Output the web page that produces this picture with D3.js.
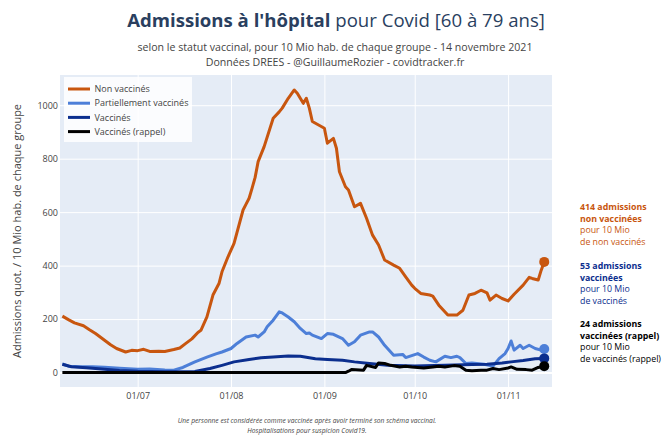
<!DOCTYPE html>
<html>
<head>
<meta charset="utf-8">
<script src="https://cdn.jsdelivr.net/npm/d3@7"></script>
<style>
  body { margin: 0; background: #fff; }
  svg { font-family: "Open Sans", sans-serif; }
</style>
</head>
<body>
<script>
// data
var nonVaxDates = ["2021-06-06","2021-06-08","2021-06-10","2021-06-13","2021-06-15","2021-06-17","2021-06-20","2021-06-22","2021-06-24","2021-06-27","2021-06-29","2021-07-01","2021-07-03","2021-07-05","2021-07-08","2021-07-10","2021-07-13","2021-07-15","2021-07-17","2021-07-19","2021-07-21","2021-07-22","2021-07-24","2021-07-26","2021-07-28","2021-07-29","2021-07-31","2021-08-02","2021-08-05","2021-08-06","2021-08-07","2021-08-08","2021-08-09","2021-08-10","2021-08-12","2021-08-15","2021-08-17","2021-08-18","2021-08-20","2021-08-22","2021-08-23","2021-08-25","2021-08-26","2021-08-27","2021-08-28","2021-09-01","2021-09-02","2021-09-04","2021-09-05","2021-09-06","2021-09-08","2021-09-09","2021-09-11","2021-09-13","2021-09-15","2021-09-17","2021-09-19","2021-09-21","2021-09-24","2021-09-26","2021-09-28","2021-09-30","2021-10-01","2021-10-03","2021-10-06","2021-10-07","2021-10-09","2021-10-12","2021-10-15","2021-10-17","2021-10-19","2021-10-21","2021-10-23","2021-10-25","2021-10-26","2021-10-28","2021-10-30","2021-11-01","2021-11-03","2021-11-06","2021-11-08","2021-11-09","2021-11-11","2021-11-12","2021-11-13"];
var nonVaxValues = [211,198,186,175,160,146,121,104,90,77,83,82,87,79,80,79,86,92,109,126,150,158,208,290,333,377,433,483,608,630,652,690,730,789,845,951,975,989,1026,1057,1045,1007,1026,989,939,914,858,876,839,751,695,683,620,633,577,514,477,421,402,390,358,327,315,296,290,286,252,215,215,233,290,296,308,298,271,290,277,268,293,327,356,352,346,383,414];

var partialDates = ["2021-06-06","2021-06-08","2021-06-12","2021-06-16","2021-06-20","2021-06-25","2021-07-01","2021-07-05","2021-07-10","2021-07-13","2021-07-16","2021-07-20","2021-07-24","2021-07-27","2021-07-29","2021-08-01","2021-08-03","2021-08-06","2021-08-09","2021-08-10","2021-08-12","2021-08-13","2021-08-15","2021-08-17","2021-08-18","2021-08-20","2021-08-22","2021-08-24","2021-08-26","2021-08-27","2021-08-28","2021-08-31","2021-09-02","2021-09-04","2021-09-07","2021-09-09","2021-09-11","2021-09-13","2021-09-16","2021-09-17","2021-09-19","2021-09-21","2021-09-24","2021-09-27","2021-09-28","2021-10-02","2021-10-04","2021-10-06","2021-10-08","2021-10-11","2021-10-13","2021-10-15","2021-10-16","2021-10-18","2021-10-20","2021-10-24","2021-10-27","2021-10-29","2021-10-31","2021-11-01","2021-11-02","2021-11-03","2021-11-05","2021-11-06","2021-11-08","2021-11-10","2021-11-12","2021-11-13"];
var partialValues = [32,24,22,22,20,16,12,13,10,9,19,40,58,70,77,90,109,133,140,133,152,171,196,227,223,208,190,165,146,148,140,127,146,143,127,102,115,140,152,152,133,102,65,68,56,71,58,46,40,61,56,61,56,34,36,31,24,52,71,90,118,84,102,90,102,90,84,88];

var vaxDates = ["2021-06-06","2021-06-09","2021-06-14","2021-06-20","2021-06-25","2021-07-01","2021-07-10","2021-07-20","2021-07-25","2021-07-29","2021-08-02","2021-08-07","2021-08-11","2021-08-15","2021-08-20","2021-08-24","2021-08-29","2021-09-02","2021-09-07","2021-09-11","2021-09-16","2021-09-22","2021-10-01","2021-10-11","2021-10-20","2021-10-25","2021-10-30","2021-11-02","2021-11-06","2021-11-10","2021-11-13"];
var vaxValues = [31,22,18,12,8,5,3,4,15,27,40,49,55,58,62,61,52,49,46,40,34,27,25,27,30,31,36,40,45,52,53];

var boosterDates = ["2021-06-06","2021-09-08","2021-09-09","2021-09-10","2021-09-14","2021-09-15","2021-09-18","2021-09-19","2021-09-21","2021-09-23","2021-09-26","2021-09-28","2021-09-30","2021-10-04","2021-10-07","2021-10-09","2021-10-11","2021-10-14","2021-10-16","2021-10-18","2021-10-20","2021-10-23","2021-10-25","2021-10-27","2021-10-29","2021-11-01","2021-11-02","2021-11-04","2021-11-07","2021-11-09","2021-11-11","2021-11-13"];
var boosterValues = [0,0,5,11,9,27,19,36,34,27,21,24,21,17,21,24,21,26,24,9,7,9,9,15,11,17,21,12,11,9,19,24];

var seriesNames = ["Non vaccinés", "Partiellement vaccinés", "Vaccinés", "Vaccinés (rappel)"];
var seriesColors = ["#c8560f", "#4d7fd8", "#0b2e8e", "#000000"];
var yTicks = [0, 200, 400, 600, 800, 1000];
var xTicks = ["2021-07-01","2021-08-01","2021-09-01","2021-10-01","2021-11-01"];
var xDomain = ["2021-06-05T05:00", "2021-11-15T14:00"];
var yDomain = [-54, 1113];

var W = 672, H = 448;
var plotLeft = 60, plotRight = 552, plotTop = 75, plotBottom = 387;

var parseDay = d3.utcParse("%Y-%m-%d"),
    parseHour = d3.utcParse("%Y-%m-%dT%H:%M");

function makeSeries(dates, values){
    return dates.map(function(d, i){ return { date: parseDay(d), value: values[i] }; });
}
var allSeries = [
    makeSeries(nonVaxDates, nonVaxValues),
    makeSeries(partialDates, partialValues),
    makeSeries(vaxDates, vaxValues),
    makeSeries(boosterDates, boosterValues)
];

var x = d3.scaleUtc()
          .domain(xDomain.map(parseHour))
          .range([plotLeft, plotRight]);
var y = d3.scaleLinear()
          .domain(yDomain)
          .range([plotBottom, plotTop]);

var svg = d3.select("body")
            .append("svg")
            .attr("width", W)
            .attr("height", H);

// plot background
svg.append("rect")
   .attr("x", plotLeft).attr("y", plotTop)
   .attr("width", plotRight - plotLeft).attr("height", plotBottom - plotTop)
   .attr("fill", "#e5ecf6");

// y axis + grid
var yAxis = svg.append("g")
               .attr("transform", "translate(" + plotLeft + ",0)")
               .call(d3.axisLeft(y).tickValues(yTicks).tickFormat(d3.format("d"))
                       .tickSize(-(plotRight - plotLeft)).tickPadding(2));
yAxis.select(".domain").remove();
yAxis.selectAll("line").attr("stroke", "#fff").attr("stroke-width", function(d){ return d === 0 ? 2 : 1; });
yAxis.selectAll("text").attr("fill", "#444").style("font-size", "9px").style("font-family", "Open Sans");

// x axis + grid
var xAxis = svg.append("g")
               .attr("transform", "translate(0," + plotBottom + ")")
               .call(d3.axisBottom(x).tickValues(xTicks.map(parseDay))
                       .tickFormat(d3.utcFormat("%d/%m"))
                       .tickSize(-(plotBottom - plotTop)).tickPadding(5.5));
xAxis.select(".domain").remove();
xAxis.selectAll("line").attr("stroke", "#fff").attr("stroke-width", 1);
xAxis.selectAll("text").attr("fill", "#444").style("font-size", "9px").style("font-family", "Open Sans");

// lines
var line = d3.line()
             .x(function(d){ return x(d.date); })
             .y(function(d){ return y(d.value); });

var plot = svg.append("g");
allSeries.forEach(function(s, i){
    plot.append("path")
        .datum(s)
        .attr("d", line)
        .attr("fill", "none")
        .attr("stroke", seriesColors[i])
        .attr("stroke-width", 3)
        .attr("stroke-linejoin", "round");
});
allSeries.forEach(function(s, i){
    var last = s[s.length - 1];
    plot.append("circle")
        .attr("cx", x(last.date))
        .attr("cy", y(last.value))
        .attr("r", 5)
        .attr("fill", seriesColors[i]);
});

// legend
var legend = svg.append("g");
legend.append("rect")
      .attr("x", 64).attr("y", 77)
      .attr("width", 128).attr("height", 65)
      .attr("fill", "rgba(255,255,255,0.85)");
seriesNames.forEach(function(name, i){
    var ly = 89 + i * 14.2;
    legend.append("line")
          .attr("x1", 68).attr("x2", 90)
          .attr("y1", ly).attr("y2", ly)
          .attr("stroke", seriesColors[i])
          .attr("stroke-width", 3);
    legend.append("text")
          .attr("x", 94.5).attr("y", ly)
          .attr("dy", "0.35em")
          .attr("fill", "#444")
          .style("font-size", "9px")
          .text(name);
});

// titles
var title = svg.append("text")
               .attr("x", 336).attr("y", 27)
               .attr("text-anchor", "middle")
               .attr("fill", "#2a3f5f")
               .style("font-size", "18.6px");
title.append("tspan").style("font-weight", "bold").text("Admissions à l'hôpital");
title.append("tspan").text(" pour Covid [60 à 79 ans]");

var subLines = ["selon le statut vaccinal, pour 10 Mio hab. de chaque groupe - 14 novembre 2021",
                "Données DREES - @GuillaumeRozier - covidtracker.fr"];
subLines.forEach(function(t, i){
    svg.append("text")
       .attr("x", 335).attr("y", 51 + i * 14.5)
       .attr("text-anchor", "middle")
       .attr("fill", "#444")
       .style("font-size", "10.6px")
       .text(t);
});

// y axis title
svg.append("text")
   .attr("transform", "translate(21," + ((plotTop + plotBottom) / 2) + ") rotate(-90)")
   .attr("text-anchor", "middle")
   .attr("fill", "#444")
   .style("font-size", "11px")
   .text("Admissions quot. / 10 Mio hab. de chaque groupe");

// right annotations
var annots = [
    { color: seriesColors[0], bold: [nonVaxValues[nonVaxValues.length - 1] + " admissions", "non vaccinées"], normal: ["pour 10 Mio", "de non vaccinés"], y: 207 },
    { color: seriesColors[2], bold: [vaxValues[vaxValues.length - 1] + " admissions", "vaccinées"], normal: ["pour 10 Mio", "de vaccinés"], y: 266 },
    { color: seriesColors[3], bold: [boosterValues[boosterValues.length - 1] + " admissions", "vaccinées (rappel)"], normal: ["pour 10 Mio", "de vaccinés (rappel)"], y: 324 }
];
annots.forEach(function(a){
    var lines = a.bold.map(function(t){ return { t: t, b: true }; })
                 .concat(a.normal.map(function(t){ return { t: t, b: false }; }));
    lines.forEach(function(l, j){
        svg.append("text")
           .attr("x", 580).attr("y", a.y + j * 11.7)
           .attr("dy", "0.35em")
           .attr("fill", a.color)
           .style("font-size", "8.8px")
           .style("font-weight", l.b ? "bold" : "normal")
           .text(l.t);
    });
});

// footnote
var notes = ["Une personne est considérée comme vaccinée après avoir terminé son schéma vaccinal.",
             "Hospitalisations pour suspicion Covid19."];
notes.forEach(function(t, i){
    svg.append("text")
       .attr("x", 307).attr("y", 421 + i * 10)
       .attr("dy", "0.35em")
       .attr("text-anchor", "middle")
       .attr("fill", "#444")
       .style("font-size", "6.7px")
       .style("font-style", "italic")
       .text(t);
});
</script>
</body>
</html>
